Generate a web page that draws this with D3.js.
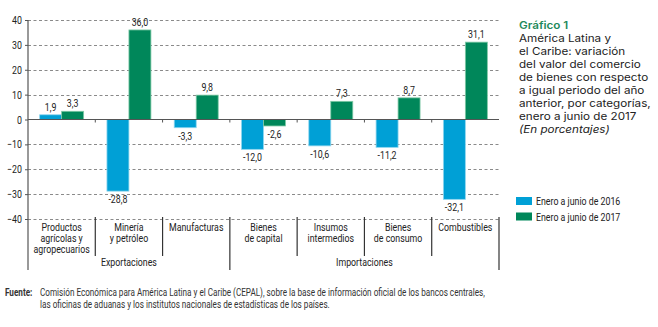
<!DOCTYPE html>
<html>
<head>
<meta charset="utf-8">
<script src="https://cdn.jsdelivr.net/npm/d3@7"></script>
<style>
  body { margin: 0; background: #fff; }
  .cond { font-family: Roboto, "Liberation Sans", sans-serif; }
</style>
</head>
<body>
<div id="chart"></div>
<script>
// categorías y series
const categories = ["Productos agrícolas y agropecuarios", "Minería y petróleo", "Manufacturas",
  "Bienes de capital", "Insumos intermedios", "Bienes de consumo", "Combustibles"];
const categoryLines = [
  ["Productos", "agrícolas y", "agropecuarios"],
  ["Minería", "y petróleo"],
  ["Manufacturas"],
  ["Bienes", "de capital"],
  ["Insumos", "intermedios"],
  ["Bienes", "de consumo"],
  ["Combustibles"]
];
const seriesNames = ["Enero a junio de 2016", "Enero a junio de 2017"];
const values2016 = [1.9, -28.8, -3.3, -12.0, -10.6, -11.2, -32.1];
const values2017 = [3.3, 36.0, 9.8, -2.6, 7.3, 8.7, 31.1];
const groups = [
  { name: "Exportaciones", first: 0, last: 2 },
  { name: "Importaciones", first: 3, last: 6 }
];
const yTicks = [40, 30, 20, 10, 0, -10, -20, -30, -40];
const titleLines = ["América Latina y", "el Caribe: variación", "del valor del comercio",
  "de bienes con respecto", "a igual periodo del año", "anterior, por categorías,",
  "enero a junio de 2017"];

const colors = ["#00a0d6", "#00875a"];
const strokes = ["#8fd6ef", "#7fc9a6"];

const width = 658, height = 327;
const plot = { left: 28, right: 499, top: 20, bottom: 219 };
const FS = 11;       // tamaño de letra de etiquetas
const NARROW = 0.8;  // compresión horizontal para imitar una fuente condensada

const svg = d3.select("#chart").append("svg")
  .attr("width", width).attr("height", height);

// escala el texto en horizontal alrededor de su x
function narrow(sel, k = NARROW) {
  sel.each(function () {
    const t = d3.select(this);
    const x = +t.attr("x") || 0;
    t.attr("transform", `translate(${x},0) scale(${k},1) translate(${-x},0)`);
  });
}

const y = d3.scaleLinear().domain([-40, 40]).range([plot.bottom, plot.top]);
const x0 = d3.scaleBand().domain(categories).range([plot.left, plot.right]).padding(0);
const x1 = d3.scaleBand().domain(seriesNames).range([0, x0.bandwidth()])
  .paddingInner(0).paddingOuter(0.53);

const fmt = d3.formatLocale({ decimal: ",", thousands: ".", grouping: [3], currency: ["", ""], minus: "-" }).format(".1f");

// líneas de cuadrícula
svg.append("g").selectAll("line")
  .data(yTicks.filter(d => d !== 0))
  .join("line")
  .attr("x1", plot.left).attr("x2", plot.right)
  .attr("y1", d => Math.round(y(d)) + 0.5).attr("y2", d => Math.round(y(d)) + 0.5)
  .attr("stroke", "#8a8a8a").attr("stroke-width", 1)
  .attr("stroke-dasharray", "3,2.5");

// eje Y
const yAxis = svg.append("g").attr("class", "cond")
  .attr("transform", `translate(${plot.left},0)`)
  .call(d3.axisLeft(y).tickValues(yTicks).tickSize(3).tickPadding(3).tickFormat(d3.format("d")));
yAxis.select(".domain").remove();
yAxis.attr("font-family", null);
yAxis.selectAll(".tick line").attr("stroke", "#555");
yAxis.selectAll(".tick text").attr("font-size", FS).attr("fill", "#222").call(narrow);

// barras
const rows = categories.map((c, i) => ({ cat: c, vals: [values2016[i], values2017[i]] }));
const catG = svg.append("g").selectAll("g")
  .data(rows)
  .join("g")
  .attr("transform", d => `translate(${x0(d.cat)},0)`);

catG.selectAll("rect")
  .data(d => d.vals.map((v, k) => ({ v, k })))
  .join("rect")
  .attr("x", d => x1(seriesNames[d.k]))
  .attr("width", x1.bandwidth())
  .attr("y", d => y(Math.max(0, d.v)))
  .attr("height", d => Math.abs(y(d.v) - y(0)))
  .attr("fill", d => colors[d.k])
  .attr("stroke", d => strokes[d.k])
  .attr("stroke-width", 0.8);

catG.selectAll("text")
  .data(d => d.vals.map((v, k) => ({ v, k })))
  .join("text")
  .attr("class", "cond")
  .attr("x", d => x1(seriesNames[d.k]) + x1.bandwidth() / 2)
  .attr("y", d => d.v >= 0 ? y(d.v) - 4 : y(d.v) + 12)
  .attr("text-anchor", "middle")
  .attr("font-size", FS)
  .attr("fill", "#222")
  .text(d => fmt(d.v))
  .call(narrow);

// línea del cero y marcas entre categorías
svg.append("line")
  .attr("x1", plot.left).attr("x2", plot.right)
  .attr("y1", y(0)).attr("y2", y(0))
  .attr("stroke", "#555").attr("stroke-width", 1.2);

svg.append("g").selectAll("line")
  .data(categories.slice(1))
  .join("line")
  .attr("x1", d => x0(d)).attr("x2", d => x0(d))
  .attr("y1", y(0)).attr("y2", y(0) + 3)
  .attr("stroke", "#555");

// eje vertical
svg.append("line")
  .attr("x1", plot.left).attr("x2", plot.left)
  .attr("y1", plot.top).attr("y2", 270)
  .attr("stroke", "#555").attr("stroke-width", 1.2);

// separadores bajo el eje
const bounds = categories.slice(1).map(c => x0(c)).concat([plot.right]);
svg.append("g").selectAll("line")
  .data(bounds)
  .join("line")
  .attr("x1", d => d).attr("x2", d => d)
  .attr("y1", plot.bottom - 2)
  .attr("y2", (d, i) => (i === 2 || i === bounds.length - 1) ? 270 : 256)
  .attr("stroke", "#333").attr("stroke-width", 1.2);

// nombres de categoría
const labG = svg.append("g").attr("class", "cond");
labG.selectAll("text.cat")
  .data(categories)
  .join("text")
  .attr("class", "cat")
  .attr("x", d => x0(d) + x0.bandwidth() / 2)
  .attr("y", 231.5)
  .attr("text-anchor", "middle")
  .attr("font-size", FS)
  .attr("fill", "#222")
  .each(function (d, i) {
    d3.select(this).selectAll("tspan")
      .data(categoryLines[i])
      .join("tspan")
      .attr("x", x0(d) + x0.bandwidth() / 2)
      .attr("dy", (t, j) => j === 0 ? 0 : 11)
      .text(t => t);
  })
  .call(narrow);

// grupos
labG.selectAll("text.grp")
  .data(groups)
  .join("text")
  .attr("class", "grp")
  .attr("x", g => (x0(categories[g.first]) + x0(categories[g.last]) + x0.bandwidth()) / 2)
  .attr("y", 266.5)
  .attr("text-anchor", "middle")
  .attr("font-size", FS)
  .attr("fill", "#222")
  .text(g => g.name)
  .call(narrow);

// título, una línea por elemento
const titleG = svg.append("g")
  .attr("font-family", "Inter, Lato, sans-serif")
  .attr("font-size", 10.6)
  .attr("fill", "#222");
const titleRows = [{ t: "Gráfico 1", kind: "head" }]
  .concat(titleLines.map(t => ({ t, kind: "body" })))
  .concat([{ t: "(En porcentajes)", kind: "note" }]);
titleG.selectAll("text")
  .data(titleRows)
  .join("text")
  .attr("x", 519)
  .attr("y", (d, i) => 29 + i * 13)
  .attr("font-weight", d => d.kind === "head" ? 600 : 400)
  .attr("font-style", d => d.kind === "note" ? "italic" : null)
  .attr("fill", d => d.kind === "head" ? "#1f8a5c" : "#222")
  .text(d => d.t)
  .call(narrow, 1.1);

// leyenda
const leg = svg.append("g").attr("class", "cond")
  .selectAll("g")
  .data(seriesNames)
  .join("g")
  .attr("transform", (d, i) => `translate(516,${197 + i * 15.5})`);
leg.append("rect").attr("width", 16).attr("height", 8)
  .attr("fill", (d, i) => colors[i]);
leg.append("text").attr("x", 20).attr("y", 8)
  .attr("font-size", FS).attr("fill", "#222")
  .text(d => d)
  .call(narrow);

// fuente
const srcG = svg.append("g").attr("class", "cond")
  .attr("font-size", 10.2).attr("fill", "#333");
srcG.append("text").attr("x", 5).attr("y", 296.5).attr("font-weight", "bold").text("Fuente:");
srcG.append("text").attr("x", 40).attr("y", 296.5)
  .text("Comisión Económica para América Latina y el Caribe (CEPAL), sobre la base de información oficial de los bancos centrales,");
srcG.append("text").attr("x", 40).attr("y", 308.5)
  .text("las oficinas de aduanas y los institutos nacionales de estadísticas de los países.");
srcG.selectAll("text").call(narrow);
</script>
</body>
</html>
